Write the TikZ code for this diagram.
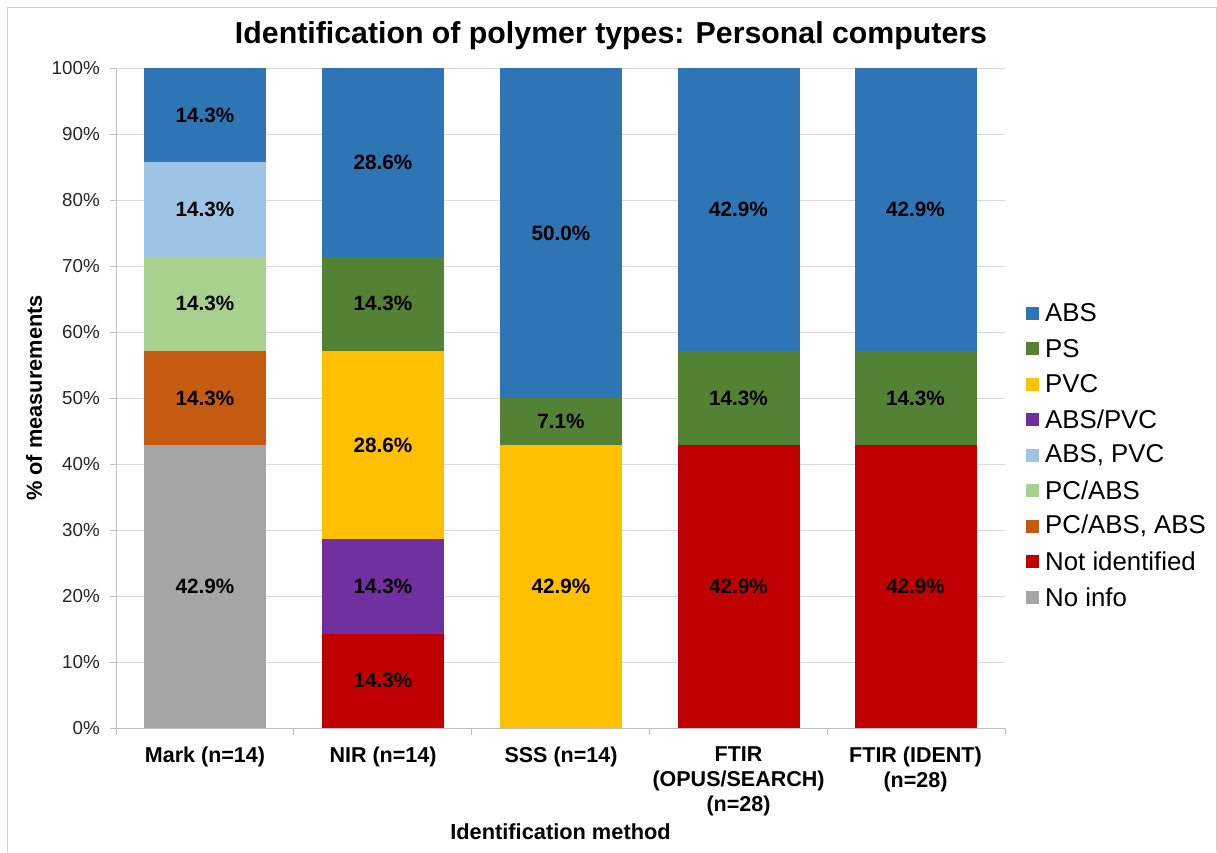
\documentclass[tikz,border=0pt]{standalone}
\usepackage{fontspec}
\setmainfont{Liberation Sans}
\definecolor{cABS}{HTML}{2E75B6}
\definecolor{cPS}{HTML}{548235}
\definecolor{cPVC}{HTML}{FFC000}
\definecolor{cABSPVC}{HTML}{7030A0}
\definecolor{cABScPVC}{HTML}{9DC3E6}
\definecolor{cPCABS}{HTML}{A9D18E}
\definecolor{cPCABScABS}{HTML}{C55A11}
\definecolor{cNotid}{HTML}{C00000}
\definecolor{cNoinfo}{HTML}{A5A5A5}
\definecolor{gridc}{HTML}{D9D9D9}
\definecolor{axisc}{HTML}{BFBFBF}
\definecolor{framec}{HTML}{D0D0D0}
\newcommand\barseg[6]{%
  \fill[#4] ({#1-61},{728-6.6*#2}) rectangle ({#1+61},{728-6.6*#3});
  \node[barlbl] (#6) at ({#1},{728-3.3*(#2+#3)}) {#5};}
\begin{document}
\begin{tikzpicture}[x=1pt,y=-1pt,
  barlbl/.style={font=\bfseries\fontsize{20.7}{24}\selectfont, inner sep=0pt},
  ticklbl/.style={font=\fontsize{18.8}{22}\selectfont, text=black!85, anchor=east, inner sep=0pt},
  catlbl/.style={font=\bfseries\fontsize{21.5}{25}\selectfont, align=center, anchor=north, inner sep=0pt},
  leglbl/.style={font=\fontsize{25.8}{28}\selectfont, anchor=west, inner sep=0pt},
  legsq/.style={minimum size=13pt, inner sep=0pt, draw=none}]
\useasboundingbox (0,0) rectangle (1217,852);
\fill[white] (0,0) rectangle (1217,852);
% outer frame
\draw[framec, line width=1pt] (7,852) -- (7,7) -- (1216,7) -- (1216,852);
% title
\node[font=\bfseries\fontsize{30.3}{34}\selectfont] (title) at (611,36) {Identification of polymer types: Personal computers};
% gridlines and y tick labels
\foreach \p in {10,20,...,100}{
  \draw[gridc, line width=0.9pt] (116,{728-6.6*\p}) -- (1005,{728-6.6*\p});
}
\foreach \p in {0,10,...,100}{
  \draw[axisc, line width=0.9pt] (110,{728-6.6*\p}) -- (116,{728-6.6*\p});
  \node[ticklbl] (yt\p) at (100,{728-6.6*\p}) {\p\%};
}
% bars: Mark
\barseg{205}{0}{42.857}{cNoinfo}{42.9\%}{m1}
\barseg{205}{42.857}{57.143}{cPCABScABS}{14.3\%}{m2}
\barseg{205}{57.143}{71.429}{cPCABS}{14.3\%}{m3}
\barseg{205}{71.429}{85.714}{cABScPVC}{14.3\%}{m4}
\barseg{205}{85.714}{100}{cABS}{14.3\%}{m5}
% NIR
\barseg{383}{0}{14.286}{cNotid}{14.3\%}{n1}
\barseg{383}{14.286}{28.571}{cABSPVC}{14.3\%}{n2}
\barseg{383}{28.571}{57.143}{cPVC}{28.6\%}{n3}
\barseg{383}{57.143}{71.429}{cPS}{14.3\%}{n4}
\barseg{383}{71.429}{100}{cABS}{28.6\%}{n5}
% SSS
\barseg{561}{0}{42.857}{cPVC}{42.9\%}{s1}
\barseg{561}{42.857}{50}{cPS}{7.1\%}{s2}
\barseg{561}{50}{100}{cABS}{50.0\%}{s3}
% FTIR OPUS
\barseg{738.5}{0}{42.857}{cNotid}{42.9\%}{o1}
\barseg{738.5}{42.857}{57.143}{cPS}{14.3\%}{o2}
\barseg{738.5}{57.143}{100}{cABS}{42.9\%}{o3}
% FTIR IDENT
\barseg{915.5}{0}{42.857}{cNotid}{42.9\%}{i1}
\barseg{915.5}{42.857}{57.143}{cPS}{14.3\%}{i2}
\barseg{915.5}{57.143}{100}{cABS}{42.9\%}{i3}
% axes
\draw[axisc, line width=0.9pt] (116,69) -- (116,728);
\draw[axisc, line width=0.9pt] (116,728) -- (1005,728);
\foreach \x in {116,293.8,471.6,649.4,827.2,1005}{
  \draw[axisc, line width=0.9pt] (\x,728) -- (\x,735);
}
% category labels
\node[catlbl] (c1) at (205,746.5) {Mark (n=14)};
\node[catlbl] (c2) at (383,746.5) {NIR (n=14)};
\node[catlbl] (c3) at (561,746.5) {SSS (n=14)};
\node[catlbl] (c4) at (738.5,746.5) {FTIR\\(OPUS/SEARCH)\\(n=28)};
\node[catlbl] (c5) at (915.5,746.5) {FTIR (IDENT)\\(n=28)};
% axis titles
\node[font=\bfseries\fontsize{21.8}{25}\selectfont] (xtitle) at (560.5,832) {Identification method};
\node[font=\bfseries\fontsize{21.8}{25}\selectfont, rotate=90] (ytitle) at (34,398) {\% of measurements};
% legend
\foreach \c/\t [count=\i] in {cABS/ABS, cPS/PS, cPVC/PVC, cABSPVC/ABS\slash PVC, cABScPVC/{ABS, PVC}, cPCABS/PC\slash ABS, cPCABScABS/{PC/ABS, ABS}, cNotid/Not identified, cNoinfo/No info}{
  \node[legsq, fill=\c] (lsq\i) at (1032.5,{313+35.5*(\i-1)}) {};
  \node[leglbl] (lt\i) at (1045,{313+35.5*(\i-1)}) {\t};
}
\end{tikzpicture}
\end{document}
